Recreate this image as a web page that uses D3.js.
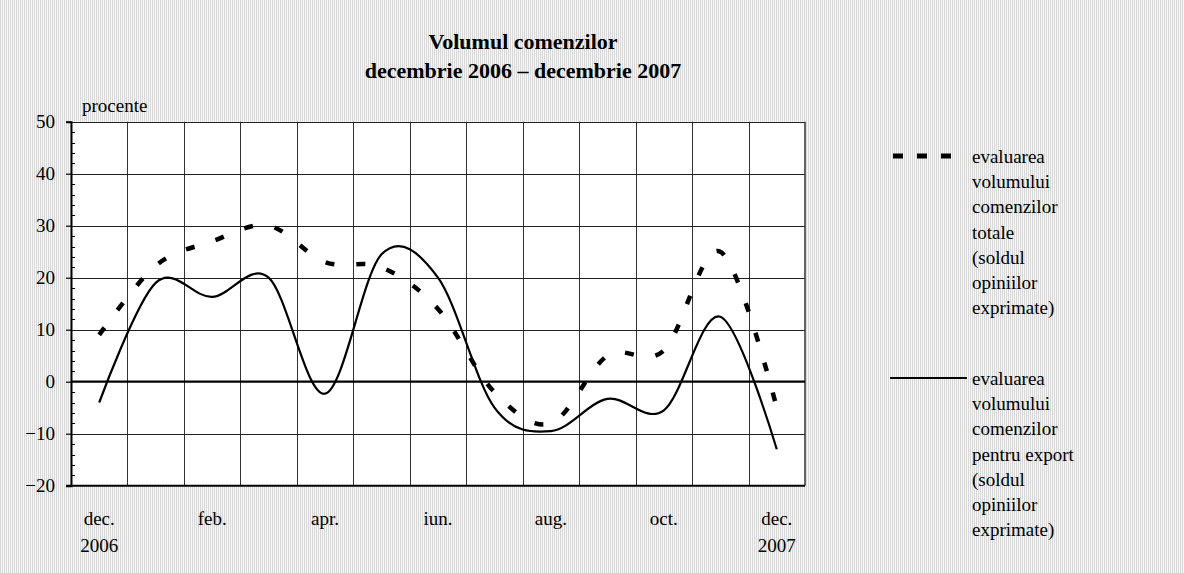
<!DOCTYPE html>
<html>
<head>
<meta charset="utf-8">
<script src="https://cdn.jsdelivr.net/npm/d3@7"></script>
<style>
	body { margin: 0; padding: 0; background: #fff; }
</style>
</head>
<body>
<svg id="chart" width="1184" height="573"></svg>
<script>
// months dec 2006 .. dec 2007
var months = ["dec06", "ian", "feb", "mar", "apr", "mai", "iun", "iul", "aug", "sep", "oct", "nov", "dec07"];
var monthLabels = [["dec.", "2006"], [], ["feb."], [], ["apr."], [], ["iun."], [], ["aug."], [], ["oct."], [], ["dec.", "2007"]];
// evaluarea volumului comenzilor totale (dashed)
var totale = [9, 22.3, 27, 30, 23, 22, 14, -2, -8, 5, 6, 25, -5];
// evaluarea volumului comenzilor pentru export (solid)
var exportVals = [-4, 19, 16.3, 20, -2.3, 24.5, 20, -5, -9.5, -3.3, -5.5, 12.5, -13];
var yTicks = [-20, -10, 0, 10, 20, 30, 40, 50];
var titleLines = ["Volumul comenzilor", "decembrie 2006 \u2013 decembrie 2007"];
var legendTotale = ["evaluarea", "volumului", "comenzilor", "totale", "(soldul", "opiniilor", "exprimate)"];
var legendExport = ["evaluarea", "volumului", "comenzilor", "pentru export", "(soldul", "opiniilor", "exprimate)"];

var FONT = "'Liberation Serif', 'Times New Roman', 'DejaVu Serif', serif";

var svg = d3.select("#chart");
var W = 1184, H = 573;
var plot = {left: 71, right: 805, top: 121.7, bottom: 485.7};

// hatched grey background
var defs = svg.append("defs");
var pat = defs.append("pattern")
	.attr("id", "bg")
	.attr("width", 2).attr("height", 2)
	.attr("patternUnits", "userSpaceOnUse");
pat.append("rect").attr("width", 2).attr("height", 2).attr("fill", "#f7f7f7");
pat.append("rect").attr("width", 1).attr("height", 2).attr("fill", "#d8d8d8");

svg.append("rect").attr("width", W).attr("height", H).attr("fill", "url(#bg)");

var x = d3.scaleBand()
	.domain(months)
	.range([plot.left, plot.right]);
var y = d3.scaleLinear()
	.domain([-20, 50])
	.range([plot.bottom, plot.top]);

svg.append("rect")
	.attr("x", plot.left).attr("y", plot.top)
	.attr("width", plot.right - plot.left)
	.attr("height", plot.bottom - plot.top)
	.attr("fill", "#fff");

// title
svg.append("g").selectAll("text")
	.data(titleLines)
	.enter().append("text")
	.attr("x", 523)
	.attr("y", function(d, i) { return 49 + i * 29; })
	.attr("text-anchor", "middle")
	.attr("font-family", FONT)
	.style("font-size", "22px")
	.style("font-weight", "bold")
	.text(function(d) { return d; });

// vertical gridlines at month boundaries
var grid = svg.append("g");
grid.selectAll(".vgrid")
	.data(months.slice(1))
	.enter().append("line")
	.attr("class", "vgrid")
	.attr("x1", function(d) { return Math.round(x(d)) + 0.5; })
	.attr("x2", function(d) { return Math.round(x(d)) + 0.5; })
	.attr("y1", plot.top).attr("y2", plot.bottom)
	.attr("stroke", "#333").attr("stroke-width", 1);

// horizontal gridlines
grid.selectAll(".hgrid")
	.data(yTicks.filter(function(d) { return d != -20 && d != 0; }))
	.enter().append("line")
	.attr("class", "hgrid")
	.attr("x1", plot.left).attr("x2", plot.right)
	.attr("y1", function(d) { return Math.round(y(d)) + 0.5; })
	.attr("y2", function(d) { return Math.round(y(d)) + 0.5; })
	.attr("stroke", "#222").attr("stroke-width", 1);

// right border
grid.append("line")
	.attr("x1", plot.right).attr("x2", plot.right)
	.attr("y1", plot.top).attr("y2", plot.bottom)
	.attr("stroke", "#333").attr("stroke-width", 1.5);

// zero line
svg.append("line")
	.attr("x1", plot.left).attr("x2", plot.right)
	.attr("y1", y(0)).attr("y2", y(0))
	.attr("stroke", "#000").attr("stroke-width", 2.2);

// y axis with outer major ticks
var yAxis = svg.append("g")
	.attr("transform", "translate(" + plot.left + ",0)")
	.call(d3.axisLeft(y).tickValues(yTicks).tickSize(5).tickPadding(11)
		.tickFormat(function(d) { return d < 0 ? "\u2212" + Math.abs(d) : d; }));
yAxis.attr("font-family", FONT).attr("font-size", 19);
yAxis.select(".domain").attr("stroke-width", 2);
yAxis.selectAll(".tick line").attr("stroke-width", 1.2);
yAxis.selectAll("text").attr("fill", "#000");

// minor inner ticks every 2
var minor = d3.range(-20, 50, 2).filter(function(d) { return d % 10 != 0; });
svg.append("g").selectAll("line")
	.data(minor)
	.enter().append("line")
	.attr("x1", plot.left).attr("x2", plot.left + 4)
	.attr("y1", function(d) { return Math.round(y(d)) + 0.5; })
	.attr("y2", function(d) { return Math.round(y(d)) + 0.5; })
	.attr("stroke", "#000").attr("stroke-width", 1);

// x axis (bottom line)
svg.append("line")
	.attr("x1", plot.left - 5).attr("x2", plot.right)
	.attr("y1", plot.bottom).attr("y2", plot.bottom)
	.attr("stroke", "#000").attr("stroke-width", 2);

// x labels
var xl = svg.append("g").selectAll("text")
	.data(months)
	.enter().append("text")
	.attr("text-anchor", "middle")
	.attr("font-family", FONT)
	.style("font-size", "19px");
xl.each(function(d, i) {
	var t = d3.select(this);
	monthLabels[i].forEach(function(s, j) {
		t.append("tspan")
			.attr("x", x(d) + x.bandwidth() / 2)
			.attr("y", 525 + j * 27)
			.text(s);
	});
});

svg.append("text")
	.attr("x", 82).attr("y", 112)
	.attr("font-family", FONT)
	.style("font-size", "19px")
	.text("procente");

// series
var line = d3.line()
	.x(function(d, i) { return x(months[i]) + x.bandwidth() / 2; })
	.y(function(d) { return y(d); })
	.curve(d3.curveCardinal.tension(0));

svg.append("path")
	.datum(totale)
	.attr("d", line)
	.attr("fill", "none")
	.attr("stroke", "#000")
	.attr("stroke-width", 4.5)
	.attr("stroke-dasharray", "9,22");

svg.append("path")
	.datum(exportVals)
	.attr("d", line)
	.attr("fill", "none")
	.attr("stroke", "#000")
	.attr("stroke-width", 2.2);

// legend
var leg = svg.append("g");
leg.append("line")
	.attr("x1", 893).attr("x2", 962)
	.attr("y1", 156).attr("y2", 156)
	.attr("stroke", "#000").attr("stroke-width", 5)
	.attr("stroke-dasharray", "10,14");
leg.append("line")
	.attr("x1", 890).attr("x2", 967)
	.attr("y1", 378).attr("y2", 378)
	.attr("stroke", "#000").attr("stroke-width", 2.2);

function legendText(lines, y0) {
	leg.append("text")
		.attr("font-family", FONT)
		.style("font-size", "19px")
		.selectAll("tspan")
		.data(lines)
		.enter().append("tspan")
		.attr("x", 972)
		.attr("y", function(d, i) { return y0 + i * 25.2; })
		.text(function(d) { return d; });
}
legendText(legendTotale, 163);
legendText(legendExport, 385);
</script>
</body>
</html>
